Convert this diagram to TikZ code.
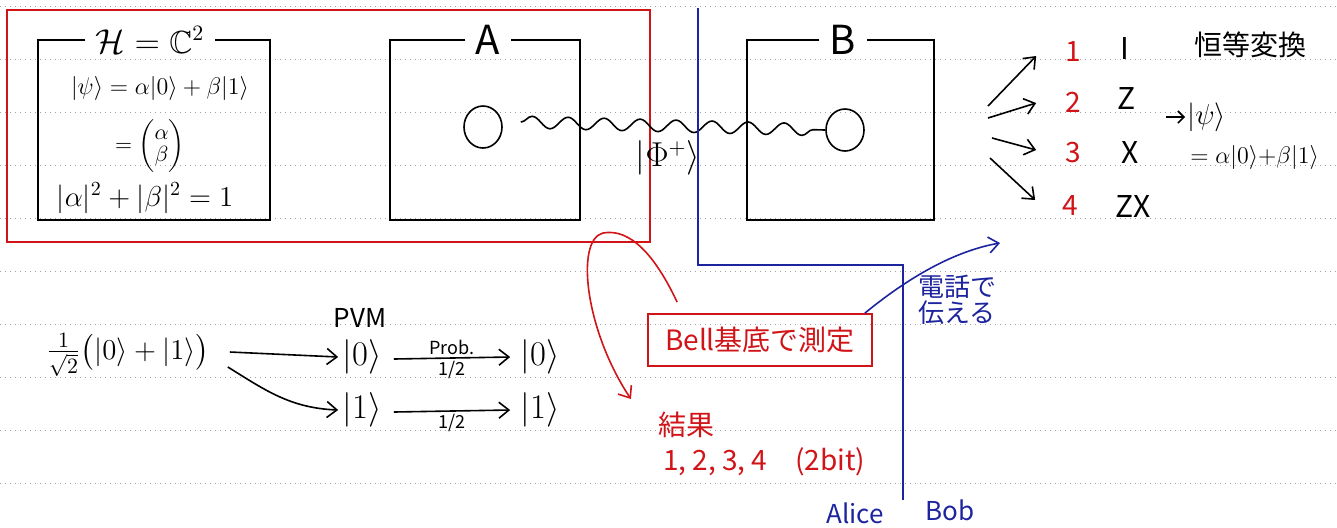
\documentclass[tikz,border=0pt]{standalone}
\usepackage{amsmath,amssymb}
\usepackage{fontspec}
\setmainfont{Noto Sans CJK JP}
\usetikzlibrary{arrows.meta,calc,shapes.geometric,decorations.pathmorphing}
\definecolor{inkred}{RGB}{208,20,24}
\definecolor{inkblue}{RGB}{28,36,158}
\definecolor{ruleline}{RGB}{160,160,160}
\newcommand{\kt}[1]{\lvert #1\rangle}
\newcommand{\fs}[1]{\fontsize{#1}{#1}\selectfont}

\begin{document}
\begin{tikzpicture}[
  x=0.5pt, y=-0.5pt,
  font=\fs{13},
  ruled/.style={draw=ruleline, dotted, line width=0.5pt},
  qbox/.style={draw=black, line width=0.9pt},
  ttl/.style={font=\fs{20}, inner xsep=5pt, inner ysep=1pt},
  eq/.style={font=\fs{12}, inner sep=1pt},
  ket/.style={font=\fs{19}, inner sep=2pt},
  small/.style={font=\fs{9}, inner sep=1pt},
  qubit/.style={draw, line width=0.8pt, ellipse, minimum width=19pt, minimum height=21pt, inner sep=0pt},
  wave/.style={line width=0.8pt, decorate, decoration={snake, segment length=18pt, amplitude=3pt}},
  rnum/.style={text=inkred, font=\fs{14}},
  op/.style={font=\fs{15}},
  rlab/.style={text=inkred, font=\fs{14}},
  blab/.style={text=inkblue, font=\fs{13}},
  bellbox/.style={draw=inkred, line width=0.9pt, text=inkred, font=\fs{14}, minimum width=112pt, minimum height=26pt},
  arr/.style={-{Straight Barb[length=5pt, width=8pt]}, line width=0.8pt}]

\useasboundingbox (0,0) rectangle (1337,527);
% notebook rules
\foreach \k in {0,...,9} \draw[ruled] (0,{6+53*\k}) -- (1337,{6+53*\k});

% Alice's side
\draw[draw=inkred, line width=0.9pt] (7,10) rectangle (650,242);
\node[ttl, font=\fs{16}] (hT) at (150,40) {$\mathcal{H}=\mathbb{C}^2$};
\draw[qbox] (hT.west) -- (38,40) -- (38,220) -- (270,220) -- (270,40) -- (hT.east);
\node[eq] (psi) at (160,88) {$\kt{\psi}=\alpha\kt{0}+\beta\kt{1}$};
\node[eq, font=\fs{11}] (vec) at (150,146) {$=\begin{pmatrix}\alpha\\ \beta\end{pmatrix}$};
\node[eq, font=\fs{14}] (norm) at (145,198) {$|\alpha|^2+|\beta|^2=1$};

\node[ttl] (aT) at (488,40) {A};
\draw[qbox] (aT.west) -- (390,40) -- (390,220) -- (580,220) -- (580,40) -- (aT.east);
\node[qubit] (qa) at (483,127) {};

% Bob's side
\node[ttl] (bT) at (843,40) {B};
\draw[qbox] (bT.west) -- (747,40) -- (747,220) -- (934,220) -- (934,40) -- (bT.east);
\node[qubit] (qb) at (845,130) {};

\draw[wave] ($(qa.east)+(18,-5)$) -- (qb.west);
\node[eq, font=\fs{16}] (phi) at (668,158) {$\kt{\Phi^+}$};

\draw[draw=inkblue, line width=0.8pt] (698,8) |- (903,265) -- (903,500);
\node[blab] (alice) at (855,513) {Alice};
\node[blab] (bob) at (950,510) {Bob};

% outcomes and corrections
\node[rnum] (n1) at (1073,52) {1};
\node[rnum] (n2) at (1073,102) {2};
\node[rnum] (n3) at (1073,153) {3};
\node[rnum] (n4) at (1070,206) {4};
\node[op] (o1) at (1125,48) {I};
\node[op] (o2) at (1127,98) {Z};
\node[op] (o3) at (1130,152) {X};
\node[op] (o4) at (1133,206) {ZX};
\node[font=\fs{14}] (ident) at (1250,45) {恒等変換};
\coordinate (f1) at (988,106);
\coordinate (f2) at (988,118);
\coordinate (f3) at (992,138);
\coordinate (f4) at (990,158);
\draw[arr] (f1) -- ($(n1.west)+(-22,4)$);
\draw[arr] (f2) -- ($(n2.west)+(-22,1)$);
\draw[arr] (f3) -- ($(n3.west)+(-22,-3)$);
\draw[arr] (f4) -- ($(n4.west)+(-20,-6)$);
\node[eq, font=\fs{14}, anchor=west] (back) at (1185,117) {$\kt{\psi}$};
\coordinate (toback) at (1166,117);
\draw[line width=0.8pt, -{Straight Barb[length=3pt, width=6pt]}] (toback) -- (back.west);
\node[eq, font=\fs{13}, anchor=west] (backeq) at (1188,157) {$=\alpha\kt{0}{+}\beta\kt{1}$};

% measurement
\node[bellbox] (bell) at (760,340) {Bell基底で測定};
\node[rlab] (kekka) at (686,425) {結果};
\node[rlab, anchor=west] (bits) at (656,462) {1, 2, 3, 4\quad(2bit)};
\draw[arr, draw=inkred] ($(bell.north west)+(30,-11)$) .. controls (655,255) and (630,228) .. (603,233)
  .. controls (575,240) and (585,330) .. ($(kekka.north west)+(-20,-6)$);
\node[blab, align=left] (tel) at (957,300) {電話で\\伝える};
\coordinate (bobend) at (1000,243);
\draw[arr, draw=inkblue] ($(bell.north east)+(-8,0)$) .. controls (915,272) and (960,250) .. (bobend);

% PVM example
\node[eq, font=\fs{15}] (sup) at (128,355) {$\frac{1}{\sqrt{2}}\bigl(\kt{0}+\kt{1}\bigr)$};
\node[ket] (p0) at (362,357) {$\kt{0}$};
\node[ket] (p1) at (362,410) {$\kt{1}$};
\node[font=\fs{13}, inner sep=1pt] (pvm) at (360,318) {PVM};
\node[ket] (q0) at (540,357) {$\kt{0}$};
\node[ket] (q1) at (540,410) {$\kt{1}$};
\draw[arr] ($(sup.east)+(18,-3)$) -- (p0.west);
\draw[arr] ($(sup.east)+(16,12)$) .. controls (265,390) and (290,408) .. (p1.west);
\draw[arr] (p0.east) ++(8,2) -- node[small, above] {Prob.} node[small, below] {1/2} ($(q0.west)+(-6,0)$);
\draw[arr] (p1.east) ++(8,2) -- node[small, below] {1/2} ($(q1.west)+(-6,0)$);
\end{tikzpicture}
\end{document}
